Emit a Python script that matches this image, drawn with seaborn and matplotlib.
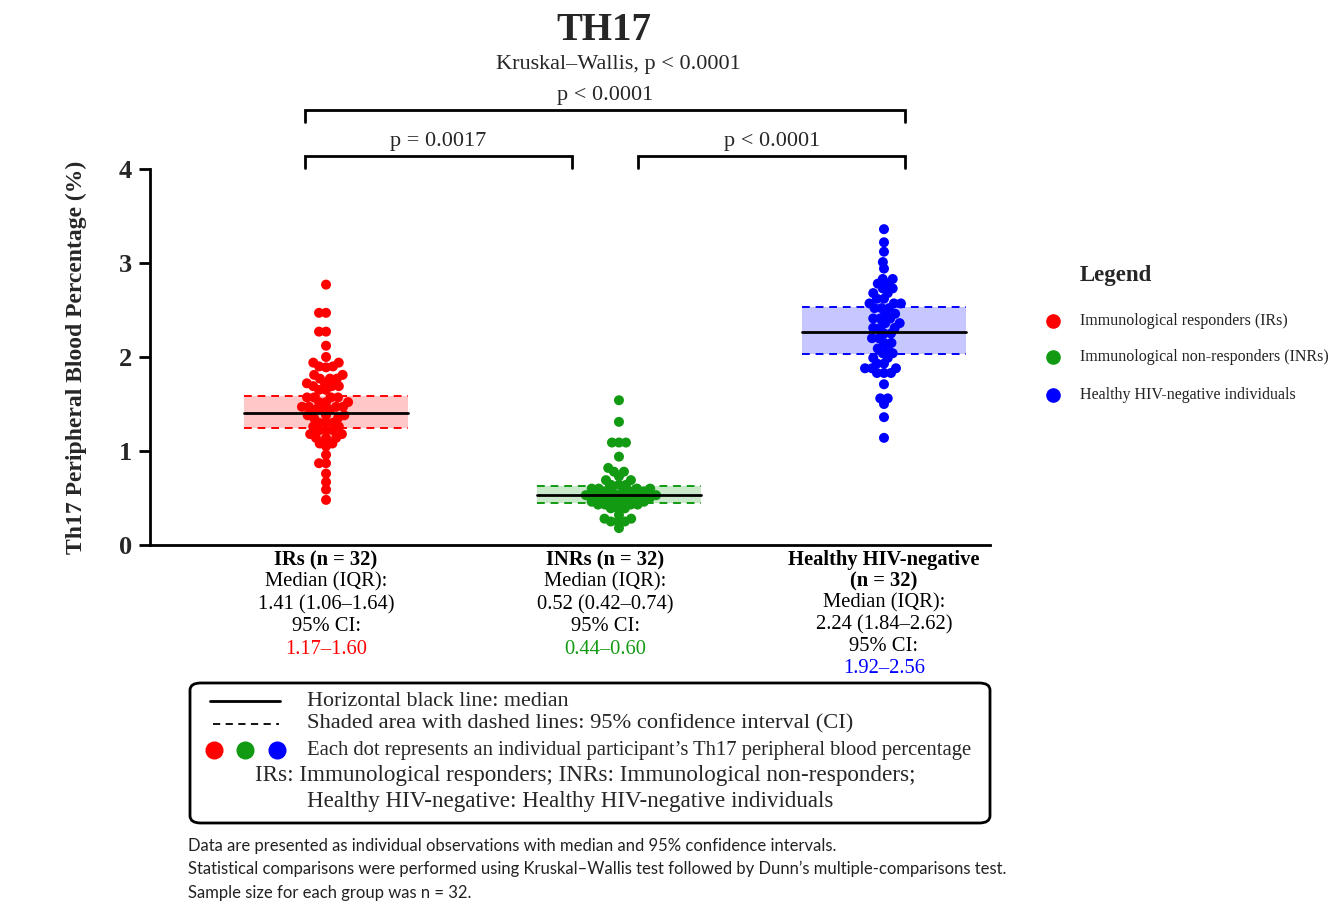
import matplotlib
matplotlib.use("Agg")
import matplotlib.pyplot as plt
import matplotlib.transforms as mtransforms
from matplotlib.patches import FancyBboxPatch
from matplotlib.lines import Line2D
import seaborn as sns
import pandas as pd

# ---------------- data ----------------
GROUPS = ["IRs", "INRs", "Healthy"]
COLORS = ["#ff0000", "#129a12", "#0000ff"]

IRS_VALUES = [2.77,
              2.47, 2.47,
              2.27, 2.27,
              2.12,
              2.00,
              1.94, 1.94,
              1.90, 1.90, 1.89,
              1.81, 1.81,
              1.77, 1.77, 1.77,
              1.72, 1.72,
              1.69, 1.69, 1.69,
              1.65, 1.65,
              1.57, 1.57, 1.57, 1.57,
              1.52, 1.52, 1.52,
              1.47, 1.47, 1.47, 1.47,
              1.44, 1.44, 1.44,
              1.38, 1.38, 1.38,
              1.35, 1.35,
              1.30, 1.30, 1.30,
              1.26, 1.26,
              1.22, 1.22, 1.22,
              1.18, 1.18,
              1.14, 1.14, 1.14,
              1.08, 1.08,
              1.05,
              0.96,
              0.87, 0.87,
              0.76,
              0.67,
              0.59,
              0.48]

INRS_VALUES = [1.54,
               1.31,
               1.09, 1.09, 1.09,
               0.94,
               0.82,
               0.78, 0.78,
               0.73,
               0.69, 0.69,
               0.64, 0.64, 0.64,
               0.60, 0.60, 0.60, 0.60,
               0.57, 0.57, 0.57, 0.57, 0.57,
               0.53, 0.53, 0.53, 0.53, 0.53,
               0.50, 0.50, 0.50, 0.50, 0.50,
               0.46, 0.46, 0.46, 0.46,
               0.43, 0.43, 0.43, 0.43,
               0.39, 0.39, 0.39,
               0.32,
               0.28, 0.28,
               0.25, 0.25, 0.25,
               0.18]

HEALTHY_VALUES = [3.36,
                  3.22,
                  3.12,
                  3.01,
                  2.94,
                  2.83, 2.83,
                  2.78, 2.78,
                  2.73, 2.73,
                  2.68, 2.68,
                  2.62, 2.62,
                  2.57, 2.57, 2.57,
                  2.52, 2.52, 2.52,
                  2.46, 2.46,
                  2.41, 2.41, 2.41,
                  2.36, 2.36,
                  2.31, 2.31, 2.31,
                  2.25, 2.25,
                  2.20, 2.20,
                  2.15, 2.15,
                  2.09, 2.09,
                  2.04, 2.04,
                  1.99, 1.99,
                  1.93, 1.93,
                  1.88, 1.88, 1.88,
                  1.83, 1.83, 1.83,
                  1.71,
                  1.56, 1.56,
                  1.50,
                  1.36,
                  1.14]

MEDIANS = [1.40, 0.53, 2.27]
CI_LOW = [1.24, 0.45, 2.03]
CI_HIGH = [1.58, 0.63, 2.53]

GROUP_TITLES = [["IRs (n = 32)"], ["INRs (n = 32)"], ["Healthy HIV-negative", "(n = 32)"]]
MEDIAN_IQR = ["1.41 (1.06\u20131.64)", "0.52 (0.42\u20130.74)", "2.24 (1.84\u20132.62)"]
CI_TEXT = ["1.17\u20131.60", "0.44\u20130.60", "1.92\u20132.56"]
Y_TICKS = [0, 1, 2, 3, 4]
COMPARISONS = [(0, 2, "p < 0.0001"), (0, 1, "p = 0.0017"), (1, 2, "p < 0.0001")]
LEGEND_LABELS = ["Immunological responders (IRs)",
                 "Immunological non-responders (INRs)",
                 "Healthy HIV-negative individuals"]

# ---------------- layout constants ----------------
GROUP_X = [0.0, 1.05, 2.0]      # centre of each dot cloud on the numeric x scale
BAND_HALF = 0.295
DOT_SIZE = 7.2                  # drawn marker diameter (pt)
SWARM_LAYOUT_SIZE = 4.8         # diameter used for the beeswarm layout (dots overlap)
W, H = 1338, 901

def fy(py):
    return 1 - py / H

def fx(px):
    return px / W

sns.set_style("ticks")
plt.rcParams["font.family"] = ["Liberation Serif", "DejaVu Serif"]
plt.rcParams["mathtext.default"] = "regular"

fig = plt.figure(figsize=(W / 100, H / 100), dpi=100)
ax = fig.add_axes([fx(150), fy(545), fx(840), fy(169) - fy(545)])

df = pd.DataFrame({
    "group": (["IRs"] * len(IRS_VALUES) + ["INRs"] * len(INRS_VALUES)
              + ["Healthy"] * len(HEALTHY_VALUES)),
    "value": IRS_VALUES + INRS_VALUES + HEALTHY_VALUES,
})
df["xpos"] = df["group"].map(dict(zip(GROUPS, GROUP_X)))

# CI bands
for i, g in enumerate(GROUPS):
    x0, x1 = GROUP_X[i] - BAND_HALF, GROUP_X[i] + BAND_HALF
    ax.fill_between([x0, x1], CI_LOW[i], CI_HIGH[i], color=COLORS[i], alpha=0.22,
                    lw=0, zorder=1)
    for yv in (CI_LOW[i], CI_HIGH[i]):
        ax.plot([x0, x1], [yv, yv], color=COLORS[i], lw=1.4, ls=(0, (4, 3)), zorder=2)

sns.swarmplot(data=df, x="xpos", y="value", hue="group", hue_order=GROUPS,
              palette=COLORS, native_scale=True, orient="x", size=SWARM_LAYOUT_SIZE,
              linewidth=0, legend=False, ax=ax, zorder=3)

# median lines
for i, g in enumerate(GROUPS):
    x0, x1 = GROUP_X[i] - BAND_HALF, GROUP_X[i] + BAND_HALF
    ax.plot([x0, x1], [MEDIANS[i], MEDIANS[i]], color="black", lw=2.0, zorder=4)

ax.set_xlim(-0.631, 2.38)
ax.set_ylim(0, 4)
ax.set_yticks(Y_TICKS)
ax.set_yticklabels([str(t) for t in Y_TICKS], fontsize=19, fontweight="bold")
ax.set_xticks([])
ax.set_xlabel("")
ax.set_ylabel("Th17 Peripheral Blood Percentage (%)", fontsize=17, fontweight="bold")
ax.yaxis.set_label_coords(-0.075, 0.5)
ax.tick_params(axis="y", length=8, width=2, pad=5, color="black")
for s in ("top", "right"):
    ax.spines[s].set_visible(False)
for s in ("left", "bottom"):
    ax.spines[s].set_linewidth(2)
    ax.spines[s].set_color("black")

# fix the beeswarm layout, then enlarge the dots so they overlap like the original
fig.canvas.draw()
for coll in ax.collections:
    if "draw" in coll.__dict__:
        del coll.draw
        coll.set_sizes([DOT_SIZE ** 2])

# significance brackets
for i, j, lab in COMPARISONS:
    left = i - 0.075 if i == 0 else i + 0.12
    right = j + 0.075 if j == 2 else j - 0.12
    if j - i == 2:
        ytop, yleg = 4.63, 4.50
    else:
        ytop, yleg = 4.14, 4.01
    ax.plot([left, left, right, right], [yleg, ytop, ytop, yleg], color="black",
            lw=2, clip_on=False, solid_joinstyle="miter")
    ax.text((left + right) / 2, ytop + 0.05, lab, ha="center", va="bottom",
            fontsize=16, clip_on=False)

# labels under the axis
trans = mtransforms.blended_transform_factory(ax.transData, fig.transFigure)
for i in range(3):
    lines = [(t, "bold", "black") for t in GROUP_TITLES[i]]
    lines += [("Median (IQR):", "normal", "black"), (MEDIAN_IQR[i], "normal", "black"),
              ("95% CI:", "normal", "black"), (CI_TEXT[i], "normal", COLORS[i])]
    py = 560
    step = 22.3 if len(GROUP_TITLES[i]) == 1 else 21.6
    for k, (t, wgt, col) in enumerate(lines):
        ax.text(i, fy(py), t, transform=trans, ha="center", va="center",
                fontsize=14.8, fontweight=wgt, color=col)
        py += step

# titles
fig.text(fx(604), fy(30), "TH17", ha="center", va="center", fontsize=28, fontweight="bold")
fig.text(fx(618), fy(64), "Kruskal\u2013Wallis, p < 0.0001", ha="center", va="center",
         fontsize=16)

# right-hand legend
fig.text(fx(1080), fy(276), "Legend", ha="left", va="center", fontsize=16.5,
         fontweight="bold")
for k, (lab, col) in enumerate(zip(LEGEND_LABELS, COLORS)):
    yy = fy([321, 357, 395][k])
    fig.add_artist(Line2D([fx(1053)], [yy], marker="o", ls="", markersize=9.5,
                          color=col, transform=fig.transFigure))
    fig.text(fx(1080), yy, lab, ha="left", va="center", fontsize=11.5, color="#222222")

# explanation box
box = FancyBboxPatch((fx(190), fy(823)), fx(800), fy(683) - fy(823),
                     boxstyle="round,pad=0,rounding_size=0.008",
                     transform=fig.transFigure, fill=False, lw=2, ec="black")
fig.add_artist(box)
fig.add_artist(Line2D([fx(210), fx(280)], [fy(701), fy(701)], color="black", lw=2,
                      transform=fig.transFigure))
fig.add_artist(Line2D([fx(213), fx(279)], [fy(724), fy(724)], color="black", lw=1.3,
                      ls=(0, (4, 3)), transform=fig.transFigure))
for px, col in zip([214, 245, 277], COLORS):
    fig.add_artist(Line2D([fx(px)], [fy(750)], marker="o", ls="", markersize=12,
                          color=col, transform=fig.transFigure))
box_lines = [
    (307, 701, 15.8, "Horizontal black line: median"),
    (307, 724, 16.2, "Shaded area with dashed lines: 95% confidence interval (CI)"),
    (307, 750, 14.9, "Each dot represents an individual participant\u2019s Th17 peripheral blood percentage"),
    (255, 776, 16.7, "IRs: Immunological responders; INRs: Immunological non-responders;"),
    (307, 802, 16.6, "Healthy HIV-negative: Healthy HIV-negative individuals"),
]
for px, py, fs, t in box_lines:
    fig.text(fx(px), fy(py), t, ha="left", va="center", fontsize=fs)

# footnotes
foot = [
    "Data are presented as individual observations with median and 95% confidence intervals.",
    "Statistical comparisons were performed using Kruskal\u2013Wallis test followed by Dunn\u2019s multiple-comparisons test.",
    "Sample size for each group was n = 32.",
]
for py, t in zip([846, 869, 893], foot):
    fig.text(fx(188), fy(py), t, ha="left", va="center", fontsize=12,
             family=["Lato", "DejaVu Sans"], color="#222222")

fig.savefig("out.png", dpi=100)
